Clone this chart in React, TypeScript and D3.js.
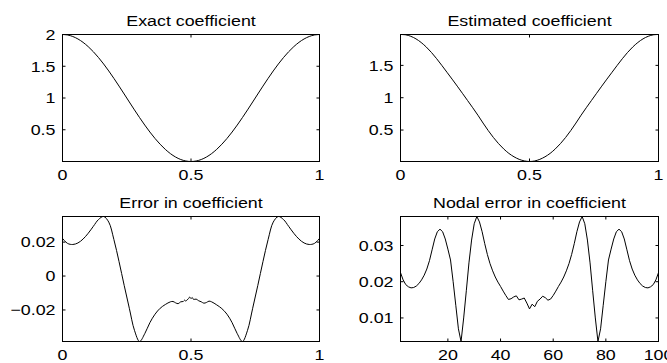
import React from "react";
import * as d3 from "d3";

// ---------- data ----------
const coefX = [0, 0.02, 0.04, 0.06, 0.08, 0.1, 0.12, 0.14, 0.16, 0.18, 0.2, 0.22, 0.24, 0.26, 0.28, 0.3, 0.32, 0.34, 0.36, 0.38, 0.4, 0.42, 0.44, 0.46, 0.48, 0.5, 0.52, 0.54, 0.56, 0.58, 0.6, 0.62, 0.64, 0.66, 0.68, 0.7, 0.72, 0.74, 0.76, 0.78, 0.8, 0.82, 0.84, 0.86, 0.88, 0.9, 0.92, 0.94, 0.96, 0.98, 1];
const exactY = [2, 1.9921, 1.9686, 1.9298, 1.8763, 1.809, 1.729, 1.6374, 1.5358, 1.4258, 1.309, 1.1874, 1.0628, 0.9372, 0.8126, 0.691, 0.5742, 0.4642, 0.3626, 0.271, 0.191, 0.1237, 0.0702, 0.0314, 0.0079, 0, 0.0079, 0.0314, 0.0702, 0.1237, 0.191, 0.271, 0.3626, 0.4642, 0.5742, 0.691, 0.8126, 0.9372, 1.0628, 1.1874, 1.309, 1.4258, 1.5358, 1.6374, 1.729, 1.809, 1.8763, 1.9298, 1.9686, 1.9921, 2];
const estimatedY = [1.9778, 1.9729, 1.95, 1.9103, 1.8545, 1.7838, 1.6997, 1.6041, 1.5007, 1.394, 1.2875, 1.1789, 1.0683, 0.9562, 0.8446, 0.7296, 0.6082, 0.4917, 0.3851, 0.29, 0.2078, 0.1389, 0.086, 0.0466, 0.0227, 0.0133, 0.0215, 0.0466, 0.0858, 0.1389, 0.208, 0.2902, 0.3851, 0.4917, 0.6082, 0.7296, 0.8446, 0.9562, 1.0683, 1.1789, 1.2875, 1.394, 1.5007, 1.6041, 1.6997, 1.7838, 1.8545, 1.9103, 1.95, 1.9729, 1.9778];

const errorX = [0, 0.02, 0.04, 0.06, 0.08, 0.1, 0.12, 0.14, 0.16, 0.18, 0.2, 0.22, 0.24, 0.26, 0.28, 0.3, 0.32, 0.34, 0.36, 0.38, 0.4, 0.42, 0.43, 0.44, 0.45, 0.46, 0.47, 0.475, 0.48, 0.485, 0.49, 0.495, 0.5, 0.505, 0.51, 0.52, 0.53, 0.54, 0.55, 0.56, 0.57, 0.58, 0.6, 0.62, 0.64, 0.66, 0.68, 0.7, 0.72, 0.74, 0.76, 0.78, 0.8, 0.82, 0.84, 0.86, 0.88, 0.9, 0.92, 0.94, 0.96, 0.98, 1];
const errorY = [0.0222, 0.0192, 0.0186, 0.0195, 0.0218, 0.0252, 0.0293, 0.0333, 0.0351, 0.0318, 0.0215, 0.0085, -0.0055, -0.019, -0.032, -0.0386, -0.034, -0.0275, -0.0225, -0.019, -0.0168, -0.0152, -0.015, -0.0158, -0.0163, -0.0152, -0.015, -0.0142, -0.0148, -0.014, -0.0134, -0.0124, -0.0133, -0.0127, -0.0138, -0.0136, -0.0146, -0.0152, -0.016, -0.0156, -0.0148, -0.0152, -0.017, -0.0192, -0.0225, -0.0275, -0.034, -0.0386, -0.032, -0.019, -0.0055, 0.0085, 0.0215, 0.0318, 0.0351, 0.0333, 0.0293, 0.0252, 0.0218, 0.0195, 0.0186, 0.0192, 0.0222];

const nodalFirst = 2; // node numbers 2..100
const nodalY = [0.0225, 0.0205, 0.0192, 0.0186, 0.0183, 0.0184, 0.0188, 0.0195, 0.0205, 0.0218, 0.0235, 0.0258, 0.0288, 0.0318, 0.0338, 0.0345, 0.0338, 0.0318, 0.029, 0.026, 0.02, 0.0135, 0.007, 0.0035, 0.01, 0.0175, 0.0252, 0.0315, 0.036, 0.038, 0.0365, 0.0338, 0.0305, 0.0275, 0.025, 0.023, 0.0213, 0.0199, 0.0187, 0.0174, 0.0162, 0.0151, 0.0153, 0.0158, 0.0161, 0.015, 0.0152, 0.0155, 0.0141, 0.0125, 0.0138, 0.0131, 0.0146, 0.0152, 0.016, 0.0156, 0.0149, 0.0152, 0.0162, 0.0174, 0.0187, 0.0199, 0.0213, 0.023, 0.025, 0.0275, 0.0305, 0.0338, 0.0365, 0.038, 0.036, 0.0315, 0.0252, 0.0175, 0.01, 0.0035, 0.007, 0.0135, 0.02, 0.026, 0.029, 0.0318, 0.0338, 0.0345, 0.0338, 0.0318, 0.0288, 0.0258, 0.0235, 0.0218, 0.0205, 0.0195, 0.0188, 0.0184, 0.0183, 0.0186, 0.0192, 0.0205, 0.0225];

const titles = ["Exact coefficient", "Estimated coefficient", "Error in coefficient", "Nodal error in coefficient"];
const unitXTicks = [0, 0.5, 1];
const unitXLabels = ["0", "0.5", "1"];
const exactYTicks = [0.5, 1, 1.5, 2];
const exactYLabels = ["0.5", "1", "1.5", "2"];
const estYTicks = [0.5, 1, 1.5];
const estYLabels = ["0.5", "1", "1.5"];
const errYTicks = [-0.02, 0, 0.02];
const errYLabels = ["\u22120.02", "0", "0.02"];
const nodalXTicks = [20, 40, 60, 80, 100];
const nodalXLabels = ["20", "40", "60", "80", "100"];
const nodalYTicks = [0.01, 0.02, 0.03];
const nodalYLabels = ["0.01", "0.02", "0.03"];

// ---------- layout ----------
const W = 667;
const H = 363;
const FONT = "'Liberation Sans', Arial, Helvetica, sans-serif";
const FS = 15;
const SX = 1.19;
const TICK = 3;

type Pt = [number, number];

function Label({ x, y, text, anchor }: { x: number; y: number; text: string; anchor: string }) {
  return (
    <text
      transform={`translate(${x},${y}) scale(${SX},1)`}
      textAnchor={anchor}
      fontFamily={FONT}
      fontSize={FS}
      fill="#000"
    >
      {text}
    </text>
  );
}

function Panel(props: {
  left: number; right: number; top: number; bottom: number;
  title: string; pts: Pt[]; xDomain: [number, number]; yDomain: [number, number];
  xTicks: number[]; xLabels: string[]; yTicks: number[]; yLabels: string[];
  curve: any;
}) {
  const { left, right, top, bottom, title, pts, xDomain, yDomain, xTicks, xLabels, yTicks, yLabels, curve } = props;
  const x = d3.scaleLinear().domain(xDomain).range([left, right]);
  const y = d3.scaleLinear().domain(yDomain).range([bottom, top]);
  const line = d3.line<Pt>().x((d) => x(d[0])).y((d) => y(d[1])).curve(curve);
  const id = "clip" + Math.round(left) + "_" + Math.round(top);
  return (
    <g>
      <defs>
        <clipPath id={id}>
          <rect x={left} y={top - 1} width={right - left} height={bottom - top + 2} />
        </clipPath>
      </defs>
      <path d={line(pts) || ""} fill="none" stroke="#000" strokeWidth={1} clipPath={`url(#${id})`} />
      <rect x={left} y={top} width={right - left} height={bottom - top} fill="none" stroke="#000" strokeWidth={1} />
      {xTicks.map((t, i) => (
        <g key={"x" + i}>
          <line x1={x(t)} x2={x(t)} y1={bottom} y2={bottom - TICK} stroke="#000" />
          <line x1={x(t)} x2={x(t)} y1={top} y2={top + TICK} stroke="#000" />
          <Label x={x(t)} y={bottom + 18} text={xLabels[i]} anchor="middle" />
        </g>
      ))}
      {yTicks.map((t, i) => (
        <g key={"y" + i}>
          <line x1={left} x2={left + TICK} y1={y(t)} y2={y(t)} stroke="#000" />
          <line x1={right} x2={right - TICK} y1={y(t)} y2={y(t)} stroke="#000" />
          <Label x={left - 7} y={y(t) + 5.3} text={yLabels[i]} anchor="end" />
        </g>
      ))}
      <Label x={(left + right) / 2} y={top - 9} text={title} anchor="middle" />
    </g>
  );
}

export default function App() {
  const exactPts: Pt[] = coefX.map((v, i) => [v, exactY[i]]);
  const estPts: Pt[] = coefX.map((v, i) => [v, estimatedY[i]]);
  const errPts: Pt[] = errorX.map((v, i) => [v, errorY[i]]);
  const nodalPts: Pt[] = nodalY.map((v, i) => [i + nodalFirst, v]);

  const L1 = 62.5, R1 = 319.5, L2 = 400.5, R2 = 658.5;
  const T1 = 34.5, B1 = 161.5, T2 = 216.5, B2 = 341.5;

  const ext = (a: number[]) => d3.extent(a) as [number, number];

  return (
    <svg width={W} height={H} style={{ display: "block", position: "absolute", left: 0, top: 0, background: "#fff" }}>
      <rect width={W} height={H} fill="#fff" />
      <Panel left={L1} right={R1} top={T1} bottom={B1} title={titles[0]} pts={exactPts}
        xDomain={ext(coefX)} yDomain={ext(exactY)} xTicks={unitXTicks} xLabels={unitXLabels}
        yTicks={exactYTicks} yLabels={exactYLabels} curve={d3.curveCatmullRom} />
      <Panel left={L2} right={R2} top={T1} bottom={B1} title={titles[1]} pts={estPts}
        xDomain={ext(coefX)} yDomain={ext(estimatedY)} xTicks={unitXTicks} xLabels={unitXLabels}
        yTicks={estYTicks} yLabels={estYLabels} curve={d3.curveCatmullRom} />
      <Panel left={L1} right={R1} top={T2} bottom={B2} title={titles[2]} pts={errPts}
        xDomain={ext(errorX)} yDomain={ext(errorY)} xTicks={unitXTicks} xLabels={unitXLabels}
        yTicks={errYTicks} yLabels={errYLabels} curve={d3.curveCatmullRom} />
      <Panel left={L2} right={R2} top={T2} bottom={B2} title={titles[3]} pts={nodalPts}
        xDomain={[nodalFirst, nodalFirst + nodalY.length - 1]} yDomain={ext(nodalY)} xTicks={nodalXTicks} xLabels={nodalXLabels}
        yTicks={nodalYTicks} yLabels={nodalYLabels} curve={d3.curveLinear} />
    </svg>
  );
}
